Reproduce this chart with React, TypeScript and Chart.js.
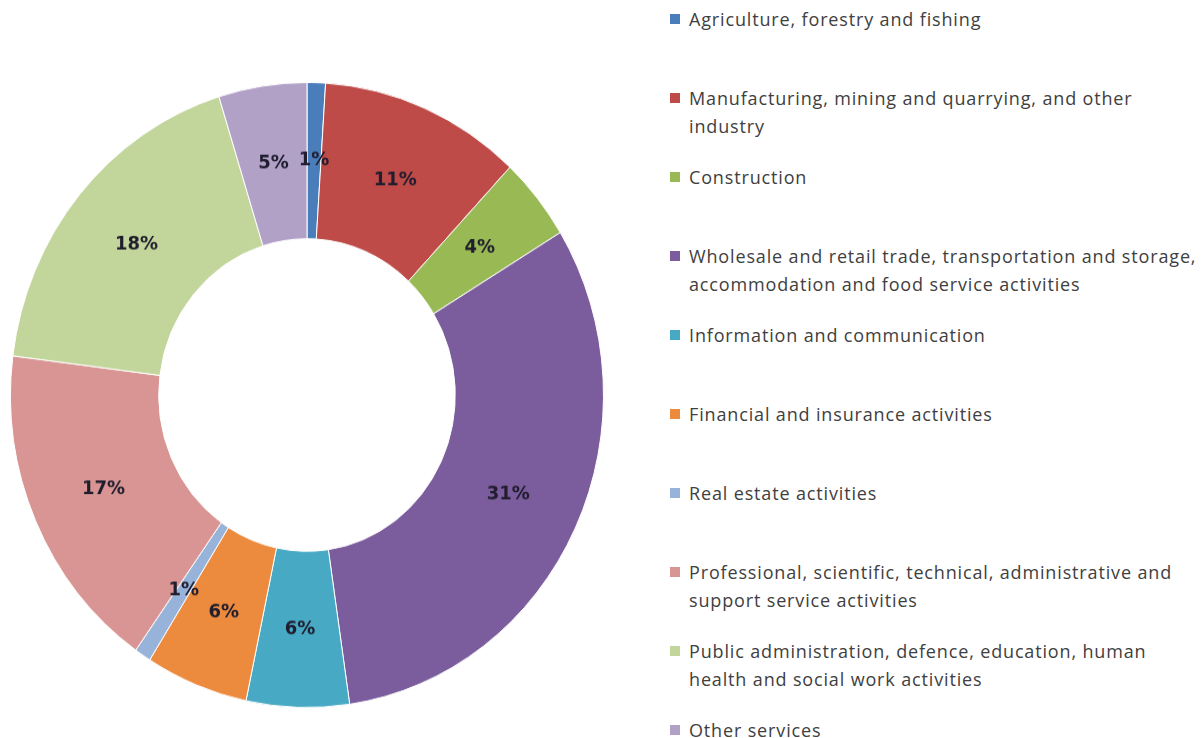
import React, { useEffect, useRef } from "react";
import { Chart, registerables } from "chart.js";

Chart.register(...registerables);

const categories: string[][] = [
  ["Agriculture, forestry and fishing"],
  ["Manufacturing, mining and quarrying, and other", "industry"],
  ["Construction"],
  ["Wholesale and retail trade, transportation and storage,", "accommodation and food service activities"],
  ["Information and communication"],
  ["Financial and insurance activities"],
  ["Real estate activities"],
  ["Professional, scientific, technical, administrative and", "support service activities"],
  ["Public administration, defence, education, human", "health and social work activities"],
  ["Other services"],
];

const shares: number[] = [1.0, 11.0, 4.3, 31.4, 5.6, 5.6, 0.9, 17.2, 18.2, 4.8];

const colors: string[] = [
  "#4A7EBB",
  "#BE4B48",
  "#98B954",
  "#7B5C9C",
  "#47A9C4",
  "#EC8A3E",
  "#97B3D9",
  "#D99593",
  "#C2D69C",
  "#B2A1C7",
];

const percentLabelPlugin = {
  id: "percentLabels",
  afterDatasetsDraw(chart: any) {
    const ctx = chart.ctx;
    const meta = chart.getDatasetMeta(0);
    const data = chart.data.datasets[0].data as number[];
    const total = data.reduce((a, b) => a + b, 0);
    ctx.save();
    ctx.font = "bold 18px 'DejaVu Sans'";
    ctx.fillStyle = "#1f1d2e";
    ctx.textAlign = "center";
    ctx.textBaseline = "middle";
    meta.data.forEach((arc: any, i: number) => {
      const p = arc.getProps(["x", "y", "startAngle", "endAngle", "innerRadius", "outerRadius"], true);
      const mid = (p.startAngle + p.endAngle) / 2;
      const r = (p.innerRadius + p.outerRadius) / 2;
      const x = p.x + Math.cos(mid) * r;
      const y = p.y + Math.sin(mid) * r;
      const pct = Math.round((data[i] / total) * 100);
      ctx.fillText(pct + "%", x, y);
    });
    ctx.restore();
  },
};

export default function App() {
  const canvasRef = useRef<HTMLCanvasElement | null>(null);

  useEffect(() => {
    document.body.style.margin = "0";
    const canvas = canvasRef.current;
    if (!canvas) return;
    const chart = new Chart(canvas, {
      type: "doughnut",
      data: {
        labels: categories.map((c) => c.join(" ")),
        datasets: [
          {
            data: shares,
            backgroundColor: colors,
            borderColor: "#ffffff",
            borderWidth: 1,
          },
        ],
      },
      options: {
        animation: false,
        responsive: true,
        maintainAspectRatio: false,
        cutout: "50%",
        layout: { padding: { left: 10, right: 16, top: 97, bottom: 45 } },
        plugins: {
          legend: { display: false },
          tooltip: { enabled: false },
        },
      },
      plugins: [percentLabelPlugin],
    });
    return () => chart.destroy();
  }, []);

  return (
    <div style={{ position: "relative", width: 1201, height: 738, background: "#fff", overflow: "hidden" }}>
      <div
        style={{
          position: "absolute",
          left: 0,
          top: 0,
          width: 620,
          height: 738,
          transform: "scaleY(1.054)",
          transformOrigin: "0px 395px",
        }}
      >
        <canvas ref={canvasRef} />
      </div>
      {categories.map((lines, i) => {
        const center = 19 + 79 * i;
        return (
          <div key={i} style={{ position: "absolute", left: 670, top: center - 14 }}>
            <div
              style={{
                position: "absolute",
                left: 0,
                top: 9,
                width: 10,
                height: 10,
                background: colors[i],
              }}
            />
            <div
              style={{
                position: "absolute",
                left: 19,
                top: 0,
                whiteSpace: "nowrap",
                fontFamily: "'Open Sans', sans-serif",
                fontSize: 18,
                letterSpacing: 0.85,
                lineHeight: "28px",
                color: "#404040",
              }}
            >
              {lines.map((l, j) => (
                <div key={j}>{l}</div>
              ))}
            </div>
          </div>
        );
      })}
    </div>
  );
}
